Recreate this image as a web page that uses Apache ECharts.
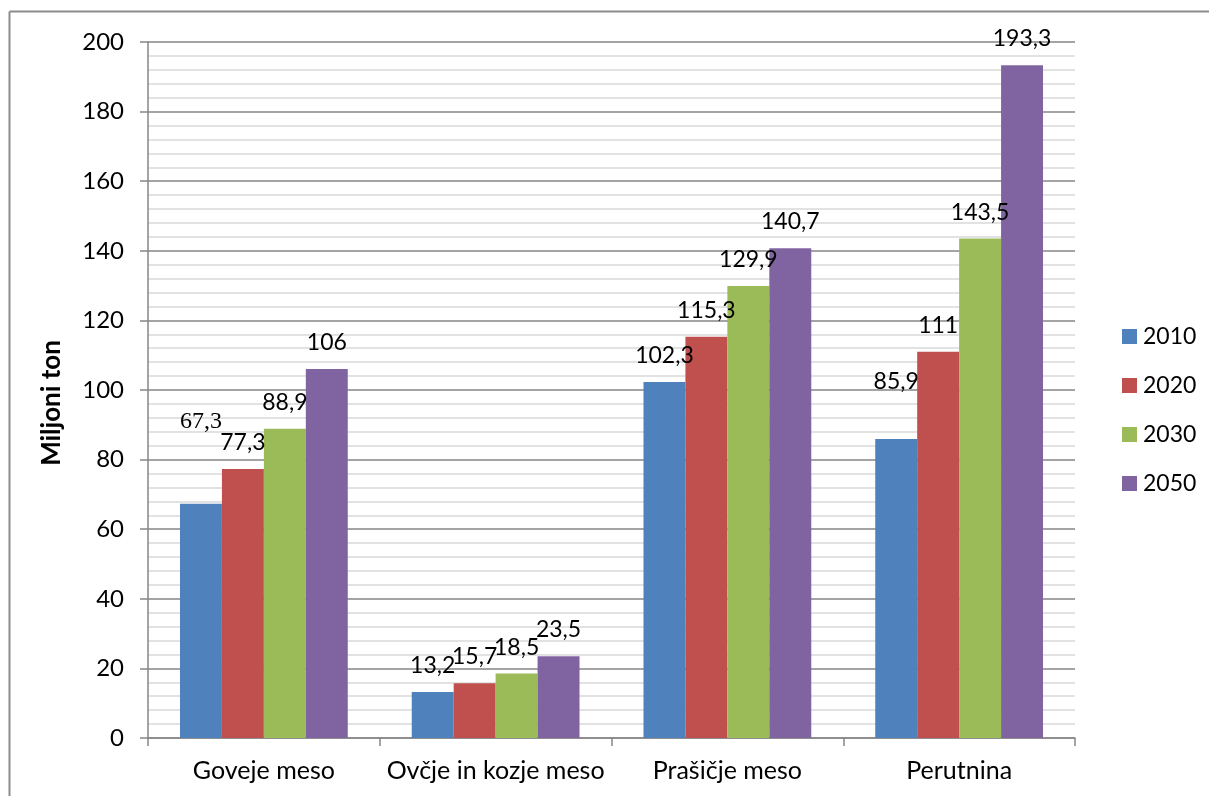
<!DOCTYPE html>
<html>
<head>
<meta charset="utf-8">
<script src="https://cdn.jsdelivr.net/npm/echarts@6/dist/echarts.min.js"></script>
<style>
  html, body { margin: 0; padding: 0; background: #fff; }
  #chart { width: 1209px; height: 796px; }
</style>
</head>
<body>
<div id="chart"></div>
<script>
// Meat production projections, million tonnes
const categories = ['Goveje meso', 'Ovčje in kozje meso', 'Prašičje meso', 'Perutnina'];
const years = ['2010', '2020', '2030', '2050'];
const values2010 = [67.3, 13.2, 102.3, 85.9];
const values2020 = [77.3, 15.7, 115.3, 111];
const values2030 = [88.9, 18.5, 129.9, 143.5];
const values2050 = [106, 23.5, 140.7, 193.3];
const yTicks = [0, 20, 40, 60, 80, 100, 120, 140, 160, 180, 200];

const colors = ['#4F81BD', '#C0504D', '#9BBB59', '#8064A2'];
const seriesValues = [values2010, values2020, values2030, values2050];
const FONT = 'Lato';

// Labels that sit higher than the default spot above their bar
const labelAdjust = {
  '0-0': { offset: [0, -55], fontFamily: 'Liberation Serif', fontSize: 24 },
  '0-3': { offset: [0, -31] }
};

function fmt(v) { return String(v).replace('.', ','); }

const chart = echarts.init(document.getElementById('chart'), null, { renderer: 'canvas' });

const series = seriesValues.map((vals, s) => ({
  name: years[s],
  type: 'bar',
  barGap: '0%',
  barCategoryGap: '27.6%',
  itemStyle: { color: colors[s] },
  data: vals.map((v, c) => {
    const adj = labelAdjust[s + '-' + c];
    const item = { value: v };
    if (adj) item.label = Object.assign({}, adj);
    return item;
  }),
  label: {
    show: true,
    position: 'top',
    distance: 15,
    color: '#000',
    fontFamily: FONT,
    fontSize: 23,
    formatter: p => fmt(p.value)
  }
}));

chart.setOption({
  animation: false,
  backgroundColor: '#fff',
  textStyle: { fontFamily: FONT },
  grid: { left: 148, right: 134, top: 42, bottom: 58, containLabel: false },
  legend: {
    data: years,
    orient: 'vertical',
    left: 1117,
    top: 320,
    itemWidth: 15,
    itemHeight: 15,
    itemGap: 26,
    icon: 'rect',
    textStyle: { fontFamily: FONT, fontSize: 23, color: '#000', padding: [0, 0, 0, 1] }
  },
  xAxis: {
    type: 'category',
    data: categories,
    axisLine: { lineStyle: { color: '#868686', width: 1.5 } },
    axisTick: { show: true, length: 8, alignWithLabel: false, lineStyle: { color: '#868686', width: 1.5 } },
    axisLabel: { interval: 0, color: '#000', fontFamily: FONT, fontSize: 25, margin: 20 },
    splitLine: { show: false }
  },
  yAxis: {
    type: 'value',
    min: yTicks[0],
    max: yTicks[yTicks.length - 1],
    interval: 20,
    name: 'Miljoni ton',
    nameLocation: 'middle',
    nameGap: 83,
    nameTextStyle: { color: '#000', fontFamily: FONT, fontSize: 26, fontWeight: 'bold', padding: [0, 26, 0, 0] },
    axisLine: { show: true, lineStyle: { color: '#868686', width: 1.5 } },
    axisTick: { show: true, length: 8, lineStyle: { color: '#868686', width: 1.5 } },
    axisLabel: { color: '#000', fontFamily: FONT, fontSize: 24, margin: 24 },
    splitLine: { show: true, lineStyle: { color: '#868686', width: 1.5 } },
    minorTick: { show: false, splitNumber: 5 },
    minorSplitLine: { show: true, lineStyle: { color: '#d9d9d9', width: 1.5 } }
  },
  series: series,
  graphic: [
    { type: 'line', shape: { x1: 9.5, y1: 11.5, x2: 1209, y2: 11.5 }, style: { stroke: '#8c8c8c', lineWidth: 2 } },
    { type: 'line', shape: { x1: 9.5, y1: 11.5, x2: 9.5, y2: 796 }, style: { stroke: '#8c8c8c', lineWidth: 2 } }
  ]
});
</script>
</body>
</html>
